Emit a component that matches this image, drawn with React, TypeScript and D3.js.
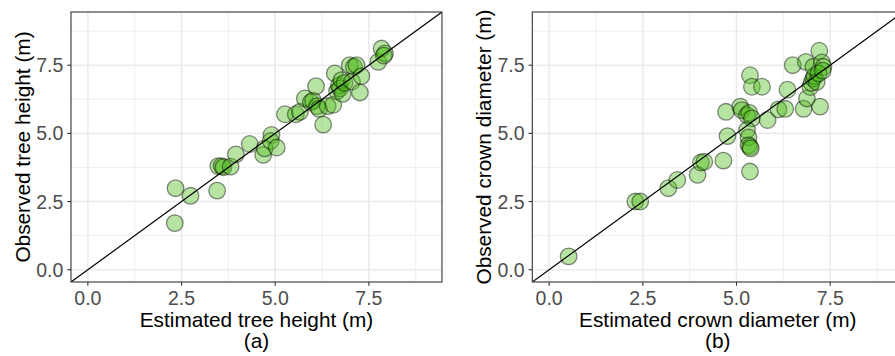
import React from "react";
import * as d3 from "d3";

const heightEst = [2.34,2.74,2.32,3.45,3.48,3.57,3.62,3.81,3.95,4.32,4.68,4.72,4.90,4.88,5.04,5.26,5.55,5.66,5.79,5.95,6.01,6.09,6.12,6.17,6.28,6.40,6.55,6.59,6.65,6.70,6.73,6.77,6.80,6.85,6.99,7.05,7.10,7.17,7.30,7.26,7.75,7.84,7.93,7.90];
const heightObs = [2.99,2.71,1.71,2.90,3.80,3.80,3.76,3.78,4.23,4.61,4.21,4.45,4.94,4.72,4.48,5.70,5.70,5.79,6.28,6.14,6.20,6.73,6.00,5.90,5.32,6.00,6.05,7.20,6.55,6.75,6.65,6.95,6.45,6.85,7.50,6.90,7.44,7.50,7.10,6.50,7.62,8.11,7.93,7.85];

const crownEst = [0.52,2.30,2.43,3.18,3.42,3.96,4.05,4.14,4.65,4.76,4.72,5.10,5.14,5.28,5.34,5.41,5.28,5.32,5.32,5.36,5.38,5.36,5.36,5.41,5.68,5.83,6.12,6.30,6.36,6.50,6.79,6.88,6.85,6.97,7.00,7.05,7.08,7.14,7.05,7.21,7.28,7.32,7.19,7.23,7.30];
const crownObs = [0.49,2.50,2.50,2.99,3.29,3.48,3.93,3.96,4.00,4.90,5.79,5.98,5.85,5.67,5.75,5.55,5.12,4.85,4.57,4.51,4.45,3.60,7.13,6.71,6.71,5.49,5.88,5.90,6.60,7.50,5.90,6.28,7.62,6.70,6.85,7.01,7.10,6.89,7.44,8.03,7.60,7.44,7.20,5.98,7.30];

const majorTicks = [0, 2.5, 5, 7.5];
const minorTicks = [1.25, 3.75, 6.25, 8.75];
const tickLabels = ["0.0", "2.5", "5.0", "7.5"];
const domain: [number, number] = [-0.45, 9.45];

const FONT = "'Liberation Sans', Arial, sans-serif";

interface PanelProps {
  xs: number[];
  ys: number[];
  left: number;
  xTitle: string;
  yTitle: string;
  tag: string;
  id: string;
}

function Panel({ xs, ys, left, xTitle, yTitle, tag, id }: PanelProps) {
  const width = 370.95;
  const top = 12;
  const bottom = 282;
  const x = d3.scaleLinear().domain(domain).range([left, left + width]);
  const y = d3.scaleLinear().domain(domain).range([bottom, top]);
  const cx = left + width / 2;
  const cy = (top + bottom) / 2;
  return (
    <g>
      <defs>
        <clipPath id={id}>
          <rect x={left} y={top} width={width} height={bottom - top} />
        </clipPath>
      </defs>
      <g clipPath={`url(#${id})`}>
        {minorTicks.map((t) => (
          <g key={"mi" + t}>
            <line x1={x(t)} x2={x(t)} y1={top} y2={bottom} stroke="#ebebeb" strokeWidth={0.8} />
            <line x1={left} x2={left + width} y1={y(t)} y2={y(t)} stroke="#ebebeb" strokeWidth={0.8} />
          </g>
        ))}
        {majorTicks.map((t) => (
          <g key={"ma" + t}>
            <line x1={x(t)} x2={x(t)} y1={top} y2={bottom} stroke="#ebebeb" strokeWidth={1.6} />
            <line x1={left} x2={left + width} y1={y(t)} y2={y(t)} stroke="#ebebeb" strokeWidth={1.6} />
          </g>
        ))}
        {xs.map((v, i) => (
          <circle
            key={i}
            cx={x(v)}
            cy={y(ys[i])}
            r={8.3}
            fill="#4CBB17"
            fillOpacity={0.4}
            stroke="#000"
            strokeOpacity={0.45}
            strokeWidth={1.3}
          />
        ))}
        <line x1={x(domain[0])} y1={y(domain[0])} x2={x(domain[1])} y2={y(domain[1])} stroke="#000" strokeWidth={1.2} />
      </g>
      <rect x={left} y={top} width={width} height={bottom - top} fill="none" stroke="#333333" strokeWidth={1.1} />
      {majorTicks.map((t, i) => (
        <g key={"t" + t}>
          <line x1={x(t)} x2={x(t)} y1={bottom} y2={bottom + 3.7} stroke="#333333" strokeWidth={1.1} />
          <text x={x(t)} y={305} textAnchor="middle" fontSize={19.5} fill="#4d4d4d" fontFamily={FONT}>{tickLabels[i]}</text>
          <line x1={left - 3.7} x2={left} y1={y(t)} y2={y(t)} stroke="#333333" strokeWidth={1.1} />
          <text x={left - 7.7} y={y(t) + 7} textAnchor="end" fontSize={19.5} fill="#4d4d4d" fontFamily={FONT}>{tickLabels[i]}</text>
        </g>
      ))}
      <text x={cx} y={327} textAnchor="middle" fontSize={20.8} fill="#000" fontFamily={FONT}>{xTitle}</text>
      <text x={cx} y={347.5} textAnchor="middle" fontSize={20.8} fill="#000" fontFamily={FONT}>{tag}</text>
      <text transform={`translate(${left - 41},${cy}) rotate(-90)`} textAnchor="middle" fontSize={20.8} fill="#000" fontFamily={FONT}>{yTitle}</text>
    </g>
  );
}

export default function App() {
  return (
    <svg width={895} height={356} style={{ position: "absolute", left: 0, top: 0, background: "#fff" }}>
      <rect width={895} height={356} fill="#fff" />
      <Panel xs={heightEst} ys={heightObs} left={71} xTitle="Estimated tree height (m)" yTitle="Observed tree height (m)" tag="(a)" id="clipA" />
      <Panel xs={crownEst} ys={crownObs} left={532.3} xTitle="Estimated crown diameter (m)" yTitle="Observed crown diameter (m)" tag="(b)" id="clipB" />
    </svg>
  );
}
